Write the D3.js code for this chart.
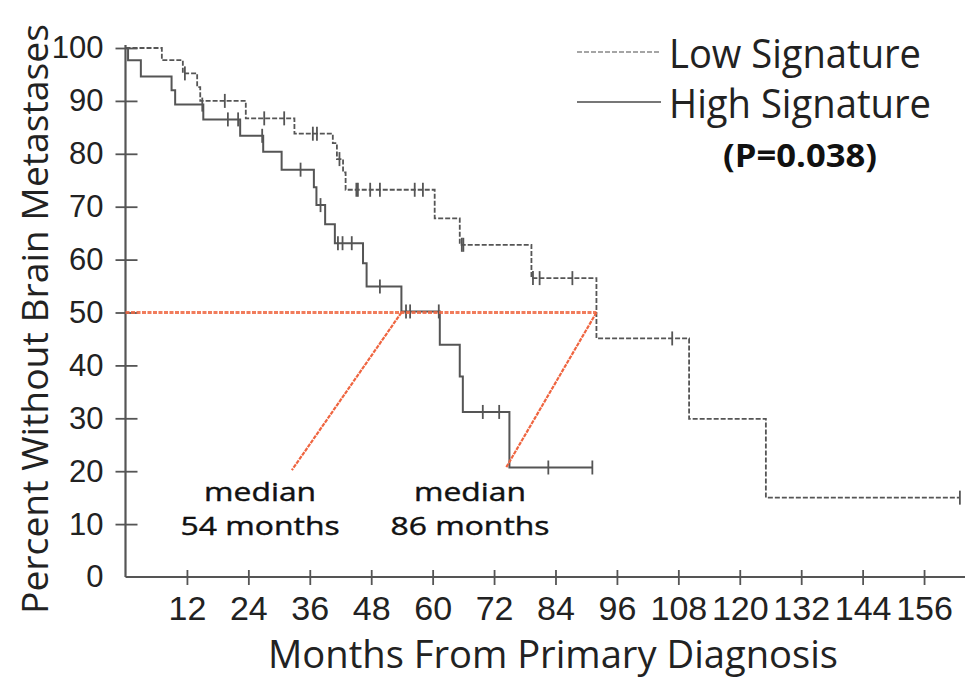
<!DOCTYPE html>
<html><head><meta charset="utf-8">
<script src="https://cdn.jsdelivr.net/npm/d3@7"></script>
<style>body{margin:0;background:#fff}svg{display:block}</style>
</head><body>
<script>
// ---- data ----
const xTicks = [12,24,36,48,60,72,84,96,108,120,132,144,156];
const yTicks = [0,10,20,30,40,50,60,70,80,90,100];
const lowTimes = [0,7.1,11.2,14.0,14.6,23.5,33.0,40.5,41.3,42.5,43.0,60.4,65.3,79.3,92.0,110.1,125.1,163.0];
const lowSurv  = [100,97.7,95.2,92.6,90.0,86.7,83.8,82.0,79.0,76.5,73.2,67.8,62.8,56.5,45.1,29.9,15.0,15.0];
const lowCensor = [11.6,19.4,27.1,31.0,36.6,37.4,41.8,45.1,45.4,47.8,49.7,56.5,58.1,65.7,66.0,79.6,80.9,87.3,106.8,163.0];
const highTimes = [0,0.5,3.0,9.0,9.7,15.2,22.4,26.9,30.5,36.8,37.3,39.0,40.9,46.4,47.1,53.9,61.4,65.3,65.9,75.0,91.2];
const highSurv  = [100,97.7,94.6,92.0,89.3,86.5,83.4,80.4,77.0,73.7,70.3,66.7,63.1,59.3,54.9,50.2,43.9,37.9,31.2,20.7,20.7];
const highCensor = [15.0,20.0,22.0,26.7,34.2,38.1,41.5,42.4,44.2,49.7,54.8,55.6,61.2,69.8,73.0,82.6,91.2];
const medianLine = [[0,50],[92.0,50]];
const medianPointers = [[[53.9,50],[32.5,20.2]],[[92.0,50],[74.3,20.6]]];
const medianLabels = [{m:26.3, line1:"median", line2:"54 months"},{m:67.3, line1:"median", line2:"86 months"}];
const legendItems = [{name:"Low Signature", dash:"5,2"},{name:"High Signature", dash:null}];
const pText = "(P=0.038)";

const W=965,H=680;
const svg=d3.select("body").append("svg").attr("width",W).attr("height",H);
const x=d3.scaleLinear().domain([0,164]).range([125.5,965]);
const y=d3.scaleLinear().domain([0,100]).range([577,48]);
const gray="#555", txt="#222", red="#ef6540";

// axes
const gx=svg.append("g").attr("transform","translate(0,577)")
  .call(d3.axisBottom(x).tickValues(xTicks).tickSize(8).tickPadding(14).tickSizeOuter(0));
gx.select(".domain").attr("stroke",gray).attr("stroke-width",2.2);
gx.selectAll(".tick line").attr("y1",-7).attr("y2",8).attr("stroke",gray).attr("stroke-width",1.8);
gx.selectAll(".tick text").attr("font-family","'Liberation Sans', Arial, sans-serif")
  .attr("font-size",34).attr("fill",txt).attr("dy","0.71em").attr("y",19);
gx.select(".domain").attr("d",`M${x(0)},0H${W}`);

const gy=svg.append("g").attr("transform",`translate(${x(0)},0)`)
  .call(d3.axisLeft(y).tickValues(yTicks).tickSize(10).tickPadding(12).tickSizeOuter(0));
gy.select(".domain").attr("stroke",gray).attr("stroke-width",2.2).attr("d",`M0,${y(100)-3}V577`);
gy.selectAll(".tick line").attr("x1",-10).attr("x2",12).attr("stroke",gray).attr("stroke-width",1.8)
  .filter(d=>d===0).remove();
gy.selectAll(".tick text").attr("font-family","'Liberation Sans', Arial, sans-serif")
  .attr("font-size",31).attr("fill",txt).attr("x",-22);

// curves
const line=d3.line().x(d=>x(d[0])).y(d=>y(d[1])).curve(d3.curveStepAfter);
function stepVal(times,surv,t){let v=surv[0];for(let i=0;i<times.length;i++){if(times[i]<=t)v=surv[i];}return v;}
function drawCurve(times,surv,cens,dash,sw){
  const pts=times.map((t,i)=>[t,surv[i]]);
  svg.append("path").attr("d",line(pts)).attr("fill","none").attr("stroke",gray)
    .attr("stroke-width",sw).attr("stroke-dasharray",dash);
  svg.append("g").selectAll("line").data(cens).join("line")
    .attr("x1",d=>x(d)).attr("x2",d=>x(d))
    .attr("y1",d=>y(stepVal(times,surv,d))-7).attr("y2",d=>y(stepVal(times,surv,d))+7)
    .attr("stroke",gray).attr("stroke-width",1.8);
}
drawCurve(lowTimes,lowSurv,lowCensor,"5,2",1.8);
drawCurve(highTimes,highSurv,highCensor,null,2);

// median annotations
const plain=d3.line().x(d=>x(d[0])).y(d=>y(d[1]));
svg.append("path").attr("d",plain(medianLine)).attr("stroke",red).attr("stroke-width",3.2)
  .attr("stroke-dasharray","4,1.5").attr("fill","none").attr("opacity",0.85);
medianPointers.forEach(p=>svg.append("path").attr("d",plain(p)).attr("stroke",red)
  .attr("stroke-width",2.2).attr("stroke-dasharray","4,1").attr("fill","none"));
medianLabels.forEach(l=>{
  svg.append("text").attr("x",x(l.m)).attr("y",501).attr("text-anchor","middle")
    .attr("font-family","'Open Sans', sans-serif").attr("font-size",25)
    .attr("fill","#111").attr("stroke","#111").attr("stroke-width",0.4)
    .attr("textLength",112).attr("lengthAdjust","spacingAndGlyphs").text(l.line1);
  svg.append("text").attr("x",x(l.m)).attr("y",535).attr("text-anchor","middle")
    .attr("font-family","'Open Sans', sans-serif").attr("font-size",25)
    .attr("fill","#111").attr("stroke","#111").attr("stroke-width",0.4)
    .attr("textLength",159).attr("lengthAdjust","spacingAndGlyphs").text(l.line2);
});

// legend
legendItems.forEach((it,i)=>{
  const ly=52+i*50;
  svg.append("line").attr("x1",577).attr("x2",661).attr("y1",ly).attr("y2",ly)
    .attr("stroke",i===0?"#888":"#777").attr("stroke-width",i===0?1.6:2.2).attr("stroke-dasharray",it.dash);
  svg.append("text").attr("x",669).attr("y",68+i*50).attr("font-family","'Open Sans', sans-serif")
    .attr("font-size",40).attr("fill",txt).attr("textLength",i===0?252:262)
    .attr("lengthAdjust","spacingAndGlyphs").text(it.name);
});
svg.append("text").attr("x",800).attr("y",167).attr("text-anchor","middle")
  .attr("font-family","'Open Sans', sans-serif").attr("font-weight","bold").attr("font-size",33)
  .attr("fill","#111").attr("textLength",154).attr("lengthAdjust","spacingAndGlyphs").text(pText);

// axis titles
svg.append("text").attr("x",553).attr("y",668).attr("text-anchor","middle")
  .attr("font-family","'Open Sans', sans-serif").attr("font-size",39).attr("fill",txt)
  .attr("textLength",570).attr("lengthAdjust","spacingAndGlyphs").text("Months From Primary Diagnosis");
svg.append("text").attr("transform","translate(48,319) rotate(-90)").attr("text-anchor","middle")
  .attr("font-family","'Open Sans', sans-serif").attr("font-size",36).attr("fill",txt)
  .attr("textLength",590).attr("lengthAdjust","spacingAndGlyphs").text("Percent Without Brain Metastases");
</script>
</body></html>
